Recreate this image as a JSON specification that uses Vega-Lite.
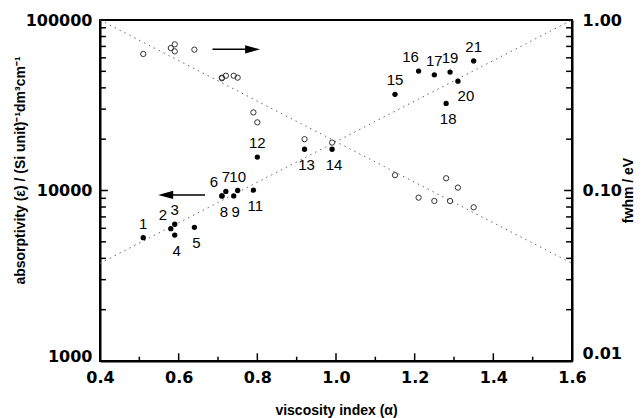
{
  "$schema": "https://vega.github.io/schema/vega-lite/v6.json",
  "width": 472,
  "height": 341,
  "autosize": {"type": "none"},
  "padding": {"left": 100, "top": 20, "right": 72, "bottom": 57},
  "background": "white",
  "config": {
    "view": {"stroke": "black", "strokeWidth": 2},
    "axis": {
      "grid": false,
      "domainColor": "black",
      "domainWidth": 2,
      "labelFont": "DejaVu Sans",
      "labelFontWeight": "bold",
      "labelFontSize": 16,
      "labelColor": "black",
      "titleFont": "Liberation Sans",
      "titleFontSize": 14,
      "titleFontWeight": "bold",
      "titleColor": "black"
    }
  },
  "datasets": {
    "samples": [
      {"id": "1", "alpha": 0.51, "eps": 5290, "fwhm": 0.632, "pos": "above"},
      {"id": "2", "alpha": 0.58, "eps": 5970, "fwhm": 0.685, "pos": "aboveleft"},
      {"id": "3", "alpha": 0.59, "eps": 6340, "fwhm": 0.72, "pos": "above"},
      {"id": "4", "alpha": 0.59, "eps": 5480, "fwhm": 0.655, "pos": "below"},
      {"id": "5", "alpha": 0.64, "eps": 6080, "fwhm": 0.67, "pos": "below"},
      {"id": "6", "alpha": 0.71, "eps": 9290, "fwhm": 0.455, "pos": "aboveleft"},
      {"id": "7", "alpha": 0.72, "eps": 9880, "fwhm": 0.471, "pos": "above"},
      {"id": "8", "alpha": 0.71, "eps": 9290, "fwhm": 0.459, "pos": "below"},
      {"id": "9", "alpha": 0.74, "eps": 9290, "fwhm": 0.471, "pos": "below"},
      {"id": "10", "alpha": 0.75, "eps": 10000, "fwhm": 0.459, "pos": "above"},
      {"id": "11", "alpha": 0.79, "eps": 10050, "fwhm": 0.287, "pos": "below"},
      {"id": "12", "alpha": 0.80, "eps": 15700, "fwhm": 0.251, "pos": "above"},
      {"id": "13", "alpha": 0.92, "eps": 17460, "fwhm": 0.20, "pos": "below"},
      {"id": "14", "alpha": 0.99, "eps": 17460, "fwhm": 0.191, "pos": "below"},
      {"id": "15", "alpha": 1.15, "eps": 36650, "fwhm": 0.123, "pos": "above"},
      {"id": "16", "alpha": 1.21, "eps": 50200, "fwhm": 0.0908, "pos": "aboveleft"},
      {"id": "17", "alpha": 1.25, "eps": 47700, "fwhm": 0.0868, "pos": "above"},
      {"id": "18", "alpha": 1.28, "eps": 32400, "fwhm": 0.118, "pos": "below"},
      {"id": "19", "alpha": 1.29, "eps": 49500, "fwhm": 0.0868, "pos": "above"},
      {"id": "20", "alpha": 1.31, "eps": 43800, "fwhm": 0.104, "pos": "belowright"},
      {"id": "21", "alpha": 1.35, "eps": 57500, "fwhm": 0.0797, "pos": "above"}
    ],
    "epsLine": [{"alpha": 0.4, "eps": 3740}, {"alpha": 1.6, "eps": 100000}],
    "fwhmLine": [{"alpha": 0.4, "fwhm": 1.0}, {"alpha": 1.6, "fwhm": 0.0374}],
    "leftArrow": [{"head": 0.567, "tail": 0.667, "eps": 9420}],
    "rightArrow": [{"head": 0.788, "tail": 0.686, "fwhm": 0.673}],
    "epsTicks": [
      {"v": 2000, "major": false}, {"v": 3000, "major": false}, {"v": 4000, "major": false},
      {"v": 5000, "major": false}, {"v": 6000, "major": false}, {"v": 7000, "major": false},
      {"v": 8000, "major": false}, {"v": 9000, "major": false}, {"v": 10000, "major": true},
      {"v": 20000, "major": false}, {"v": 30000, "major": false}, {"v": 40000, "major": false},
      {"v": 50000, "major": false}, {"v": 60000, "major": false}, {"v": 70000, "major": false},
      {"v": 80000, "major": false}, {"v": 90000, "major": false}
    ],
    "fwhmTicks": [
      {"v": 0.02, "major": false}, {"v": 0.03, "major": false}, {"v": 0.04, "major": false},
      {"v": 0.05, "major": false}, {"v": 0.06, "major": false}, {"v": 0.07, "major": false},
      {"v": 0.08, "major": false}, {"v": 0.09, "major": false}, {"v": 0.1, "major": true},
      {"v": 0.2, "major": false}, {"v": 0.3, "major": false}, {"v": 0.4, "major": false},
      {"v": 0.5, "major": false}, {"v": 0.6, "major": false}, {"v": 0.7, "major": false},
      {"v": 0.8, "major": false}, {"v": 0.9, "major": false}
    ],
    "alphaTicks": [
      {"v": 0.5, "major": false}, {"v": 0.6, "major": true}, {"v": 0.7, "major": false},
      {"v": 0.8, "major": true}, {"v": 0.9, "major": false}, {"v": 1.0, "major": true},
      {"v": 1.1, "major": false}, {"v": 1.2, "major": true}, {"v": 1.3, "major": false},
      {"v": 1.4, "major": true}, {"v": 1.5, "major": false}
    ]
  },
  "layer": [
    {
      "layer": [
        {
          "data": {"name": "epsLine"},
          "mark": {"type": "line", "strokeDash": [1.5, 4], "color": "#666666", "strokeWidth": 1},
          "encoding": {
            "x": {
              "field": "alpha", "type": "quantitative",
              "scale": {"domain": [0.4, 1.6], "nice": false, "zero": false},
              "axis": {
                "orient": "bottom",
                "title": "viscosity index (α)",
                "values": [0.4, 0.6, 0.8, 1.0, 1.2, 1.4, 1.6],
                "format": ".1f",
                "ticks": false,
                "labelPadding": 8,
                "labelFlush": false,
                "titleY": 49,
                "titleBaseline": "middle"
              }
            },
            "y": {
              "field": "eps", "type": "quantitative",
              "scale": {"type": "log", "domain": [1000, 100000], "nice": false},
              "axis": {
                "orient": "left",
                "title": "absorptivity  (ε)  /  (Si unit)⁻¹dm³cm⁻¹",
                "values": [1000, 10000, 100000],
                "format": "d",
                "ticks": false,
                "labelPadding": 8,
                "labelFlush": false,
                "labelBaseline": {"condition": {"test": "datum.value == 1000", "value": "alphabetic"}, "value": "middle"},
                "titleX": -80,
                "titleY": 150,
                "titleAngle": 270,
                "titleAlign": "center",
                "titleBaseline": "middle"
              }
            }
          }
        },
        {
          "data": {"name": "epsTicks"},
          "transform": [{"filter": "!datum.major"}],
          "mark": {"type": "rule", "color": "black", "strokeWidth": 1.5},
          "encoding": {
            "x": {"datum": 0.4, "type": "quantitative"},
            "x2": {"datum": 0.415},
            "y": {"field": "v", "type": "quantitative"}
          }
        },
        {
          "data": {"name": "epsTicks"},
          "transform": [{"filter": "datum.major"}],
          "mark": {"type": "rule", "color": "black", "strokeWidth": 1.5},
          "encoding": {
            "x": {"datum": 0.4, "type": "quantitative"},
            "x2": {"datum": 0.42},
            "y": {"field": "v", "type": "quantitative"}
          }
        },
        {
          "data": {"name": "alphaTicks"},
          "transform": [{"filter": "!datum.major"}],
          "mark": {"type": "rule", "color": "black", "strokeWidth": 1.5},
          "encoding": {
            "x": {"field": "v", "type": "quantitative"},
            "y": {"datum": 1000, "type": "quantitative"},
            "y2": {"datum": 1060}
          }
        },
        {
          "data": {"name": "alphaTicks"},
          "transform": [{"filter": "datum.major"}],
          "mark": {"type": "rule", "color": "black", "strokeWidth": 1.5},
          "encoding": {
            "x": {"field": "v", "type": "quantitative"},
            "y": {"datum": 1000, "type": "quantitative"},
            "y2": {"datum": 1110}
          }
        },
        {
          "data": {"name": "samples"},
          "mark": {"type": "point", "shape": "circle", "filled": true, "size": 28, "color": "black", "opacity": 1},
          "encoding": {
            "x": {"field": "alpha", "type": "quantitative"},
            "y": {"field": "eps", "type": "quantitative"}
          }
        },
        {
          "data": {"name": "samples"},
          "transform": [{"filter": "datum.pos == 'above'"}],
          "mark": {"type": "text", "font": "Liberation Sans", "fontSize": 15, "color": "black", "dy": -14, "baseline": "middle"},
          "encoding": {
            "x": {"field": "alpha", "type": "quantitative"},
            "y": {"field": "eps", "type": "quantitative"},
            "text": {"field": "id"}
          }
        },
        {
          "data": {"name": "samples"},
          "transform": [{"filter": "datum.pos == 'aboveleft'"}],
          "mark": {"type": "text", "font": "Liberation Sans", "fontSize": 15, "color": "black", "dx": -8, "dy": -14, "baseline": "middle"},
          "encoding": {
            "x": {"field": "alpha", "type": "quantitative"},
            "y": {"field": "eps", "type": "quantitative"},
            "text": {"field": "id"}
          }
        },
        {
          "data": {"name": "samples"},
          "transform": [{"filter": "datum.pos == 'below'"}],
          "mark": {"type": "text", "font": "Liberation Sans", "fontSize": 15, "color": "black", "dx": 2, "dy": 16, "baseline": "middle"},
          "encoding": {
            "x": {"field": "alpha", "type": "quantitative"},
            "y": {"field": "eps", "type": "quantitative"},
            "text": {"field": "id"}
          }
        },
        {
          "data": {"name": "samples"},
          "transform": [{"filter": "datum.pos == 'belowright'"}],
          "mark": {"type": "text", "font": "Liberation Sans", "fontSize": 15, "color": "black", "dx": 8, "dy": 15, "baseline": "middle"},
          "encoding": {
            "x": {"field": "alpha", "type": "quantitative"},
            "y": {"field": "eps", "type": "quantitative"},
            "text": {"field": "id"}
          }
        },
        {
          "data": {"name": "leftArrow"},
          "mark": {"type": "rule", "color": "black", "strokeWidth": 1.5},
          "encoding": {
            "x": {"field": "head", "type": "quantitative"},
            "x2": {"field": "tail"},
            "y": {"field": "eps", "type": "quantitative"}
          }
        },
        {
          "data": {"name": "leftArrow"},
          "mark": {"type": "point", "shape": "M -1 0 L 1 -0.55 L 1 0.55 Z", "filled": true, "size": 225, "color": "black", "opacity": 1},
          "encoding": {
            "x": {"field": "head", "type": "quantitative"},
            "y": {"field": "eps", "type": "quantitative"}
          }
        }
      ]
    },
    {
      "layer": [
        {
          "data": {"name": "fwhmLine"},
          "mark": {"type": "line", "strokeDash": [1.5, 4], "color": "#666666", "strokeWidth": 1},
          "encoding": {
            "x": {"field": "alpha", "type": "quantitative"},
            "y": {
              "field": "fwhm", "type": "quantitative",
              "scale": {"type": "log", "domain": [0.01, 1], "nice": false},
              "axis": {
                "orient": "right",
                "title": "fwhm / eV",
                "values": [0.01, 0.1, 1],
                "format": ".2f",
                "ticks": false,
                "labelPadding": 10,
                "labelFlush": false,
                "labelBaseline": {"condition": {"test": "datum.value == 0.01", "value": "bottom"}, "value": "middle"},
                "titleX": 56,
                "titleY": 170,
                "titleAngle": 270,
                "titleAlign": "center",
                "titleBaseline": "middle"
              }
            }
          }
        },
        {
          "data": {"name": "fwhmTicks"},
          "transform": [{"filter": "!datum.major"}],
          "mark": {"type": "rule", "color": "black", "strokeWidth": 1.5},
          "encoding": {
            "x": {"datum": 1.585, "type": "quantitative"},
            "x2": {"datum": 1.6},
            "y": {"field": "v", "type": "quantitative"}
          }
        },
        {
          "data": {"name": "fwhmTicks"},
          "transform": [{"filter": "datum.major"}],
          "mark": {"type": "rule", "color": "black", "strokeWidth": 1.5},
          "encoding": {
            "x": {"datum": 1.58, "type": "quantitative"},
            "x2": {"datum": 1.6},
            "y": {"field": "v", "type": "quantitative"}
          }
        },
        {
          "data": {"name": "samples"},
          "mark": {"type": "point", "shape": "circle", "filled": false, "size": 28, "color": "#333333", "strokeWidth": 1, "opacity": 1},
          "encoding": {
            "x": {"field": "alpha", "type": "quantitative"},
            "y": {"field": "fwhm", "type": "quantitative"}
          }
        },
        {
          "data": {"name": "rightArrow"},
          "mark": {"type": "rule", "color": "black", "strokeWidth": 1.5},
          "encoding": {
            "x": {"field": "tail", "type": "quantitative"},
            "x2": {"field": "head"},
            "y": {"field": "fwhm", "type": "quantitative"}
          }
        },
        {
          "data": {"name": "rightArrow"},
          "mark": {"type": "point", "shape": "M 1 0 L -1 -0.55 L -1 0.55 Z", "filled": true, "size": 225, "color": "black", "opacity": 1},
          "encoding": {
            "x": {"field": "head", "type": "quantitative"},
            "y": {"field": "fwhm", "type": "quantitative"}
          }
        }
      ]
    }
  ],
  "resolve": {"scale": {"y": "independent"}}
}
